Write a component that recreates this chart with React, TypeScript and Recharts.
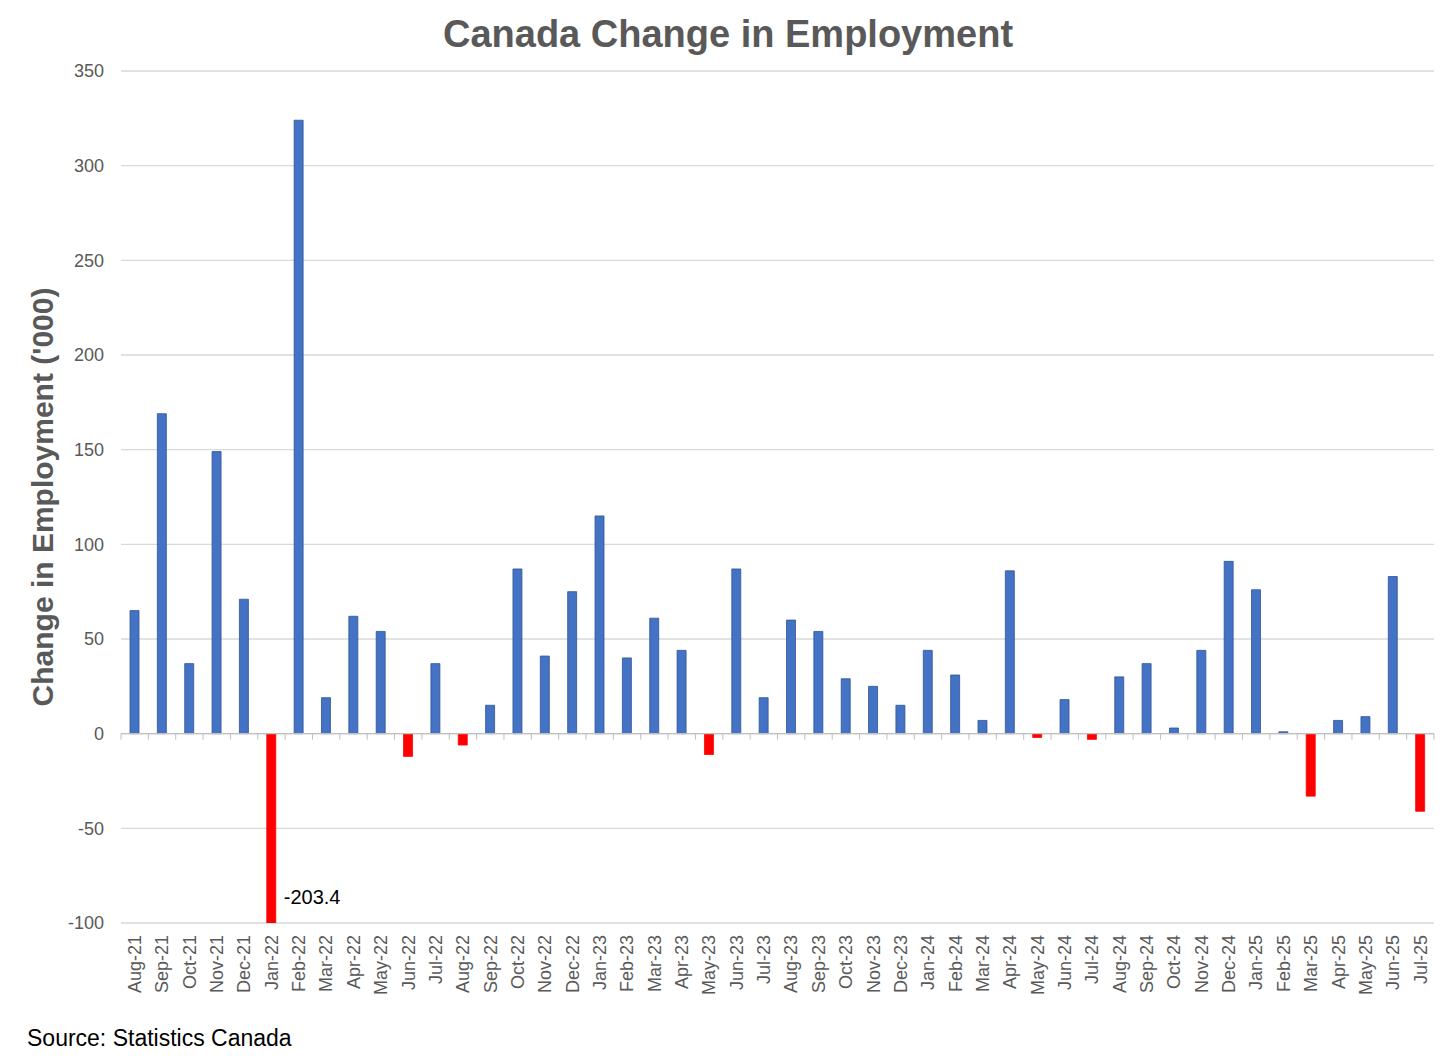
import { BarChart, Bar, XAxis, YAxis, CartesianGrid, ReferenceLine, Cell } from 'recharts';

const months = [
  'Aug-21', 'Sep-21', 'Oct-21', 'Nov-21', 'Dec-21',
  'Jan-22', 'Feb-22', 'Mar-22', 'Apr-22', 'May-22', 'Jun-22', 'Jul-22', 'Aug-22', 'Sep-22', 'Oct-22', 'Nov-22', 'Dec-22',
  'Jan-23', 'Feb-23', 'Mar-23', 'Apr-23', 'May-23', 'Jun-23', 'Jul-23', 'Aug-23', 'Sep-23', 'Oct-23', 'Nov-23', 'Dec-23',
  'Jan-24', 'Feb-24', 'Mar-24', 'Apr-24', 'May-24', 'Jun-24', 'Jul-24', 'Aug-24', 'Sep-24', 'Oct-24', 'Nov-24', 'Dec-24',
  'Jan-25', 'Feb-25', 'Mar-25', 'Apr-25', 'May-25', 'Jun-25', 'Jul-25',
];

// change in employment, thousands
const changes = [
  65, 169, 37, 149, 71,
  -203.4, 324, 19, 62, 54, -12, 37, -6, 15, 87, 41, 75,
  115, 40, 61, 44, -11, 87, 19, 60, 54, 29, 25, 15,
  44, 31, 7, 86, -2, 18, -3, 30, 37, 3, 44, 91,
  76, 1, -33, 7, 9, 83, -41,
];

const yTicks = [-100, -50, 0, 50, 100, 150, 200, 250, 300, 350];

const data = months.map((m, i) => ({ month: m, value: changes[i] }));

const W = 1456;
const H = 1056;
const TOP = 71;
const LEFT = 121;
const RIGHT = 22;
const PLOT_H = 852;
const X_AXIS_H = 90;
const Y_MIN = -100;
const Y_MAX = 350;
const FONT = '"Liberation Sans", Arial, sans-serif';

const plotW = W - LEFT - RIGHT;
const band = plotW / months.length;
const zeroY = TOP + (Y_MAX / (Y_MAX - Y_MIN)) * PLOT_H;

const MonthTick = (props: any) => {
  const { x, y, payload, index } = props;
  return (
    <g>
      <line x1={x + band / 2} x2={x + band / 2} y1={zeroY} y2={zeroY + 6} stroke="#bfbfbf" />
      {index === 0 && <line x1={x - band / 2} x2={x - band / 2} y1={zeroY} y2={zeroY + 6} stroke="#bfbfbf" />}
      <text
        x={x}
        y={y + 4}
        dy="0.35em"
        transform={`rotate(-90, ${x}, ${y + 4})`}
        textAnchor="end"
        fontSize={18}
        fill="#595959"
        fontFamily={FONT}
      >
        {payload.value}
      </text>
    </g>
  );
};

// value label for the bar that runs past the bottom of the axis
const OverflowLabel = (props: any) => {
  const { x, width, value } = props;
  if (value >= Y_MIN) return null;
  return (
    <text x={x + width + 8} y={TOP + PLOT_H - 26} dy="0.35em" fontSize={20} fill="#000" fontFamily={FONT}>
      {value}
    </text>
  );
};

export default function App() {
  return (
    <div style={{ position: 'absolute', top: 0, left: 0, width: W, height: H, background: '#fff', fontFamily: FONT }}>
      <div
        style={{
          position: 'absolute', top: 12, left: 0, width: W, textAlign: 'center',
          fontSize: 38, fontWeight: 'bold', color: '#595959', lineHeight: '44px',
        }}
      >
        Canada Change in Employment
      </div>
      <BarChart
        width={W}
        height={H}
        data={data}
        margin={{ top: TOP, right: RIGHT, left: 0, bottom: H - TOP - PLOT_H - X_AXIS_H }}
        barSize={9}
      >
        <CartesianGrid vertical={false} stroke="#d9d9d9" strokeWidth={1.3} />
        <XAxis
          dataKey="month"
          interval={0}
          height={X_AXIS_H}
          tickLine={false}
          axisLine={false}
          tick={<MonthTick />}
        />
        <YAxis
          width={LEFT}
          domain={[Y_MIN, Y_MAX]}
          ticks={yTicks}
          allowDataOverflow
          tickLine={false}
          axisLine={false}
          tickSize={0}
          tickMargin={17}
          tick={{ fontSize: 18, fill: '#595959', fontFamily: FONT }}
          label={{
            value: "Change in Employment ('000)",
            angle: -90,
            position: 'insideLeft',
            offset: 42,
            style: { fontSize: 30, fontWeight: 'bold', fill: '#595959', fontFamily: FONT, textAnchor: 'middle' },
          }}
        />
        <ReferenceLine y={0} stroke="#bfbfbf" strokeWidth={1.3} />
        <Bar dataKey="value" isAnimationActive={false} label={<OverflowLabel />}>
          {data.map((d, i) => (
            <Cell
              key={i}
              fill={d.value < 0 ? '#ff0000' : '#4472c4'}
              stroke={d.value < 0 ? '#ff0000' : '#2f5597'}
              strokeWidth={0.8}
            />
          ))}
        </Bar>
      </BarChart>
      <div style={{ position: 'absolute', left: 27, top: 1024, fontSize: 23, color: '#000', lineHeight: '28px' }}>
        Source: Statistics Canada
      </div>
    </div>
  );
}
